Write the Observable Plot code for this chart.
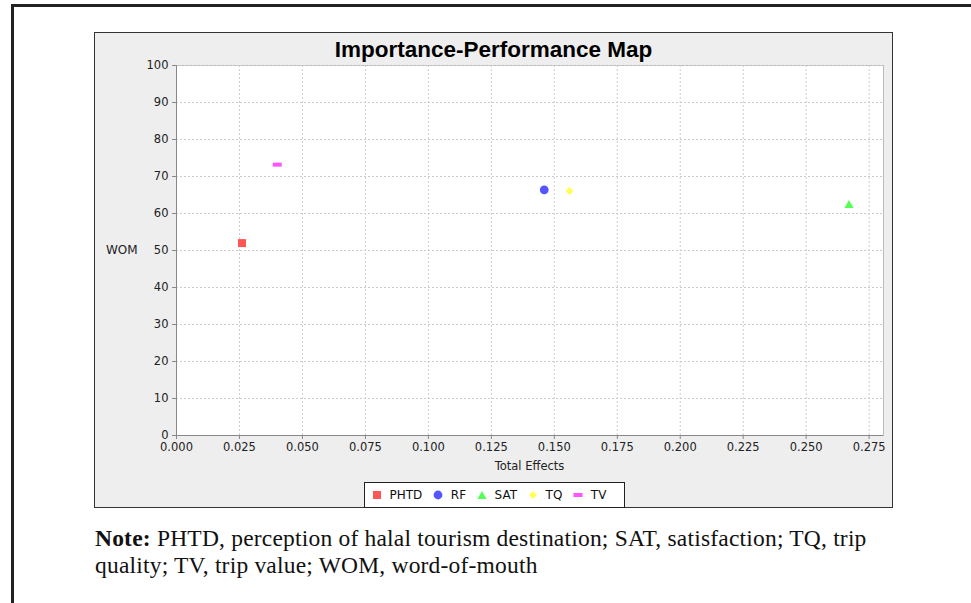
<!DOCTYPE html>
<html><head><meta charset="utf-8">
<script src="https://cdn.jsdelivr.net/npm/d3@7"></script>
<script src="https://cdn.jsdelivr.net/npm/@observablehq/plot@0.6"></script>
<style>
html,body{margin:0;padding:0;}
body{background:#fff;width:971px;height:603px;overflow:hidden;position:relative;font-family:"DejaVu Sans",sans-serif;}
#outer{position:absolute;left:11px;top:4px;width:1000px;height:700px;border:3px solid #222;box-sizing:border-box;}
#panel{position:absolute;left:94px;top:32px;width:799px;height:476px;background:#eeeeee;border:1.5px solid #333;box-sizing:border-box;}
#chart{position:absolute;left:94px;top:32px;}
#title{position:absolute;left:94px;width:799px;top:37px;text-align:center;font-family:"Liberation Sans",Arial,sans-serif;font-weight:bold;font-size:22.5px;line-height:normal;color:#000;}
#ylab{position:absolute;left:106px;top:243px;font-size:12px;line-height:normal;color:#222;}
#xlab{position:absolute;left:176px;width:707px;top:459px;text-align:center;font-size:11.5px;line-height:normal;color:#222;}
#legend{position:absolute;left:364px;top:482px;width:261px;height:26px;background:#fff;border:1.5px solid #222;box-sizing:border-box;display:flex;align-items:center;font-size:12px;color:#111;padding-left:6.5px;}
#legend .it{display:flex;align-items:center;margin-right:10.5px;}
#legend svg{margin-right:8px;}
#note{position:absolute;left:95px;top:525px;font-family:"Liberation Serif","Times New Roman",serif;font-size:23.5px;line-height:27px;letter-spacing:0.2px;color:#111;white-space:nowrap;}
</style></head>
<body>
<div id="outer"></div>
<div id="panel"></div>
<div id="chart"></div>
<div id="title">Importance-Performance Map</div>
<div id="ylab">WOM</div>
<div id="xlab">Total Effects</div>
<div id="legend"></div>
<div id="note"><b>Note:</b> PHTD, perception of halal tourism destination; SAT, satisfaction; TQ, trip<br>quality; TV, trip value; WOM, word-of-mouth</div>
<script>
// ---- data ----
const series = ["PHTD", "RF", "SAT", "TQ", "TV"];
const totalEffects = [0.026, 0.146, 0.267, 0.156, 0.040];
const wom = [52.0, 66.4, 62.6, 66.1, 73.2];
const xTicks = [0, 0.025, 0.05, 0.075, 0.1, 0.125, 0.15, 0.175, 0.2, 0.225, 0.25, 0.275];
const yTicks = [0, 10, 20, 30, 40, 50, 60, 70, 80, 90, 100];

// ---- styles ----
const colors = ["#FF5555", "#5555FF", "#55FF55", "#FFFF55", "#FF55FF"];
const R = s => Math.sqrt(s / Math.PI);
const symbols = [
  {draw(c, s) { const r = R(s); c.rect(-r, -r, 2 * r, 2 * r); }},
  {draw(c, s) { const r = R(s) + 0.4; c.moveTo(r, 0); c.arc(0, 0, r, 0, 2 * Math.PI); }},
  {draw(c, s) { const r = R(s); c.moveTo(0, -r); c.lineTo(r + 0.6, r); c.lineTo(-r - 0.6, r); c.closePath(); }},
  {draw(c, s) { const r = R(s); c.moveTo(0, -r); c.lineTo(r, 0); c.lineTo(0, r); c.lineTo(-r, 0); c.closePath(); }},
  {draw(c, s) { const r = R(s); c.rect(-r - 0.5, -r / 2, 2 * r + 1, r); }}
];

const data = series.map((s, i) => ({series: s, te: totalEffects[i], wom: wom[i]}));

const chart = Plot.plot({
  width: 799, height: 476,
  marginLeft: 82, marginTop: 33, marginRight: 10, marginBottom: 73,
  style: {background: "transparent", fontFamily: "DejaVu Sans, sans-serif", fontSize: "11.5px", color: "#222"},
  x: {domain: [0, 0.2807], label: null},
  y: {domain: [0, 100], label: null},
  color: {domain: series, range: colors},
  symbol: {domain: series, range: symbols},
  marks: [
    Plot.frame({fill: "white", stroke: "#bbb"}),
    Plot.gridX(xTicks, {stroke: "#cccccc", strokeOpacity: 1, strokeDasharray: "2,2"}),
    Plot.gridY(yTicks, {stroke: "#cccccc", strokeOpacity: 1, strokeDasharray: "2,2"}),
    Plot.ruleX([0], {stroke: "#888"}),
    Plot.ruleY([0], {stroke: "#888"}),
    Plot.axisX(xTicks, {tickFormat: d3.format(".3f"), tickSize: 4, tickPadding: 3.5, stroke: "#888", fill: "#222", label: null}),
    Plot.axisY(yTicks, {tickSize: 4, tickPadding: 4, stroke: "#888", fill: "#222", label: null}),
    Plot.dot(data, {x: "te", y: "wom", symbol: "series", fill: "series", r: 4})
  ]
});
document.getElementById("chart").append(chart);

// legend
const leg = d3.select("#legend");
series.forEach((s, i) => {
  const it = leg.append("div").attr("class", "it");
  const sv = it.append("svg").attr("width", 10).attr("height", 10);
  sv.append("path").attr("transform", "translate(5,5)")
    .attr("d", d3.symbol(symbols[i], 16 * Math.PI)()).attr("fill", colors[i]);
  it.append("span").text(s);
});
</script>
</body></html>
